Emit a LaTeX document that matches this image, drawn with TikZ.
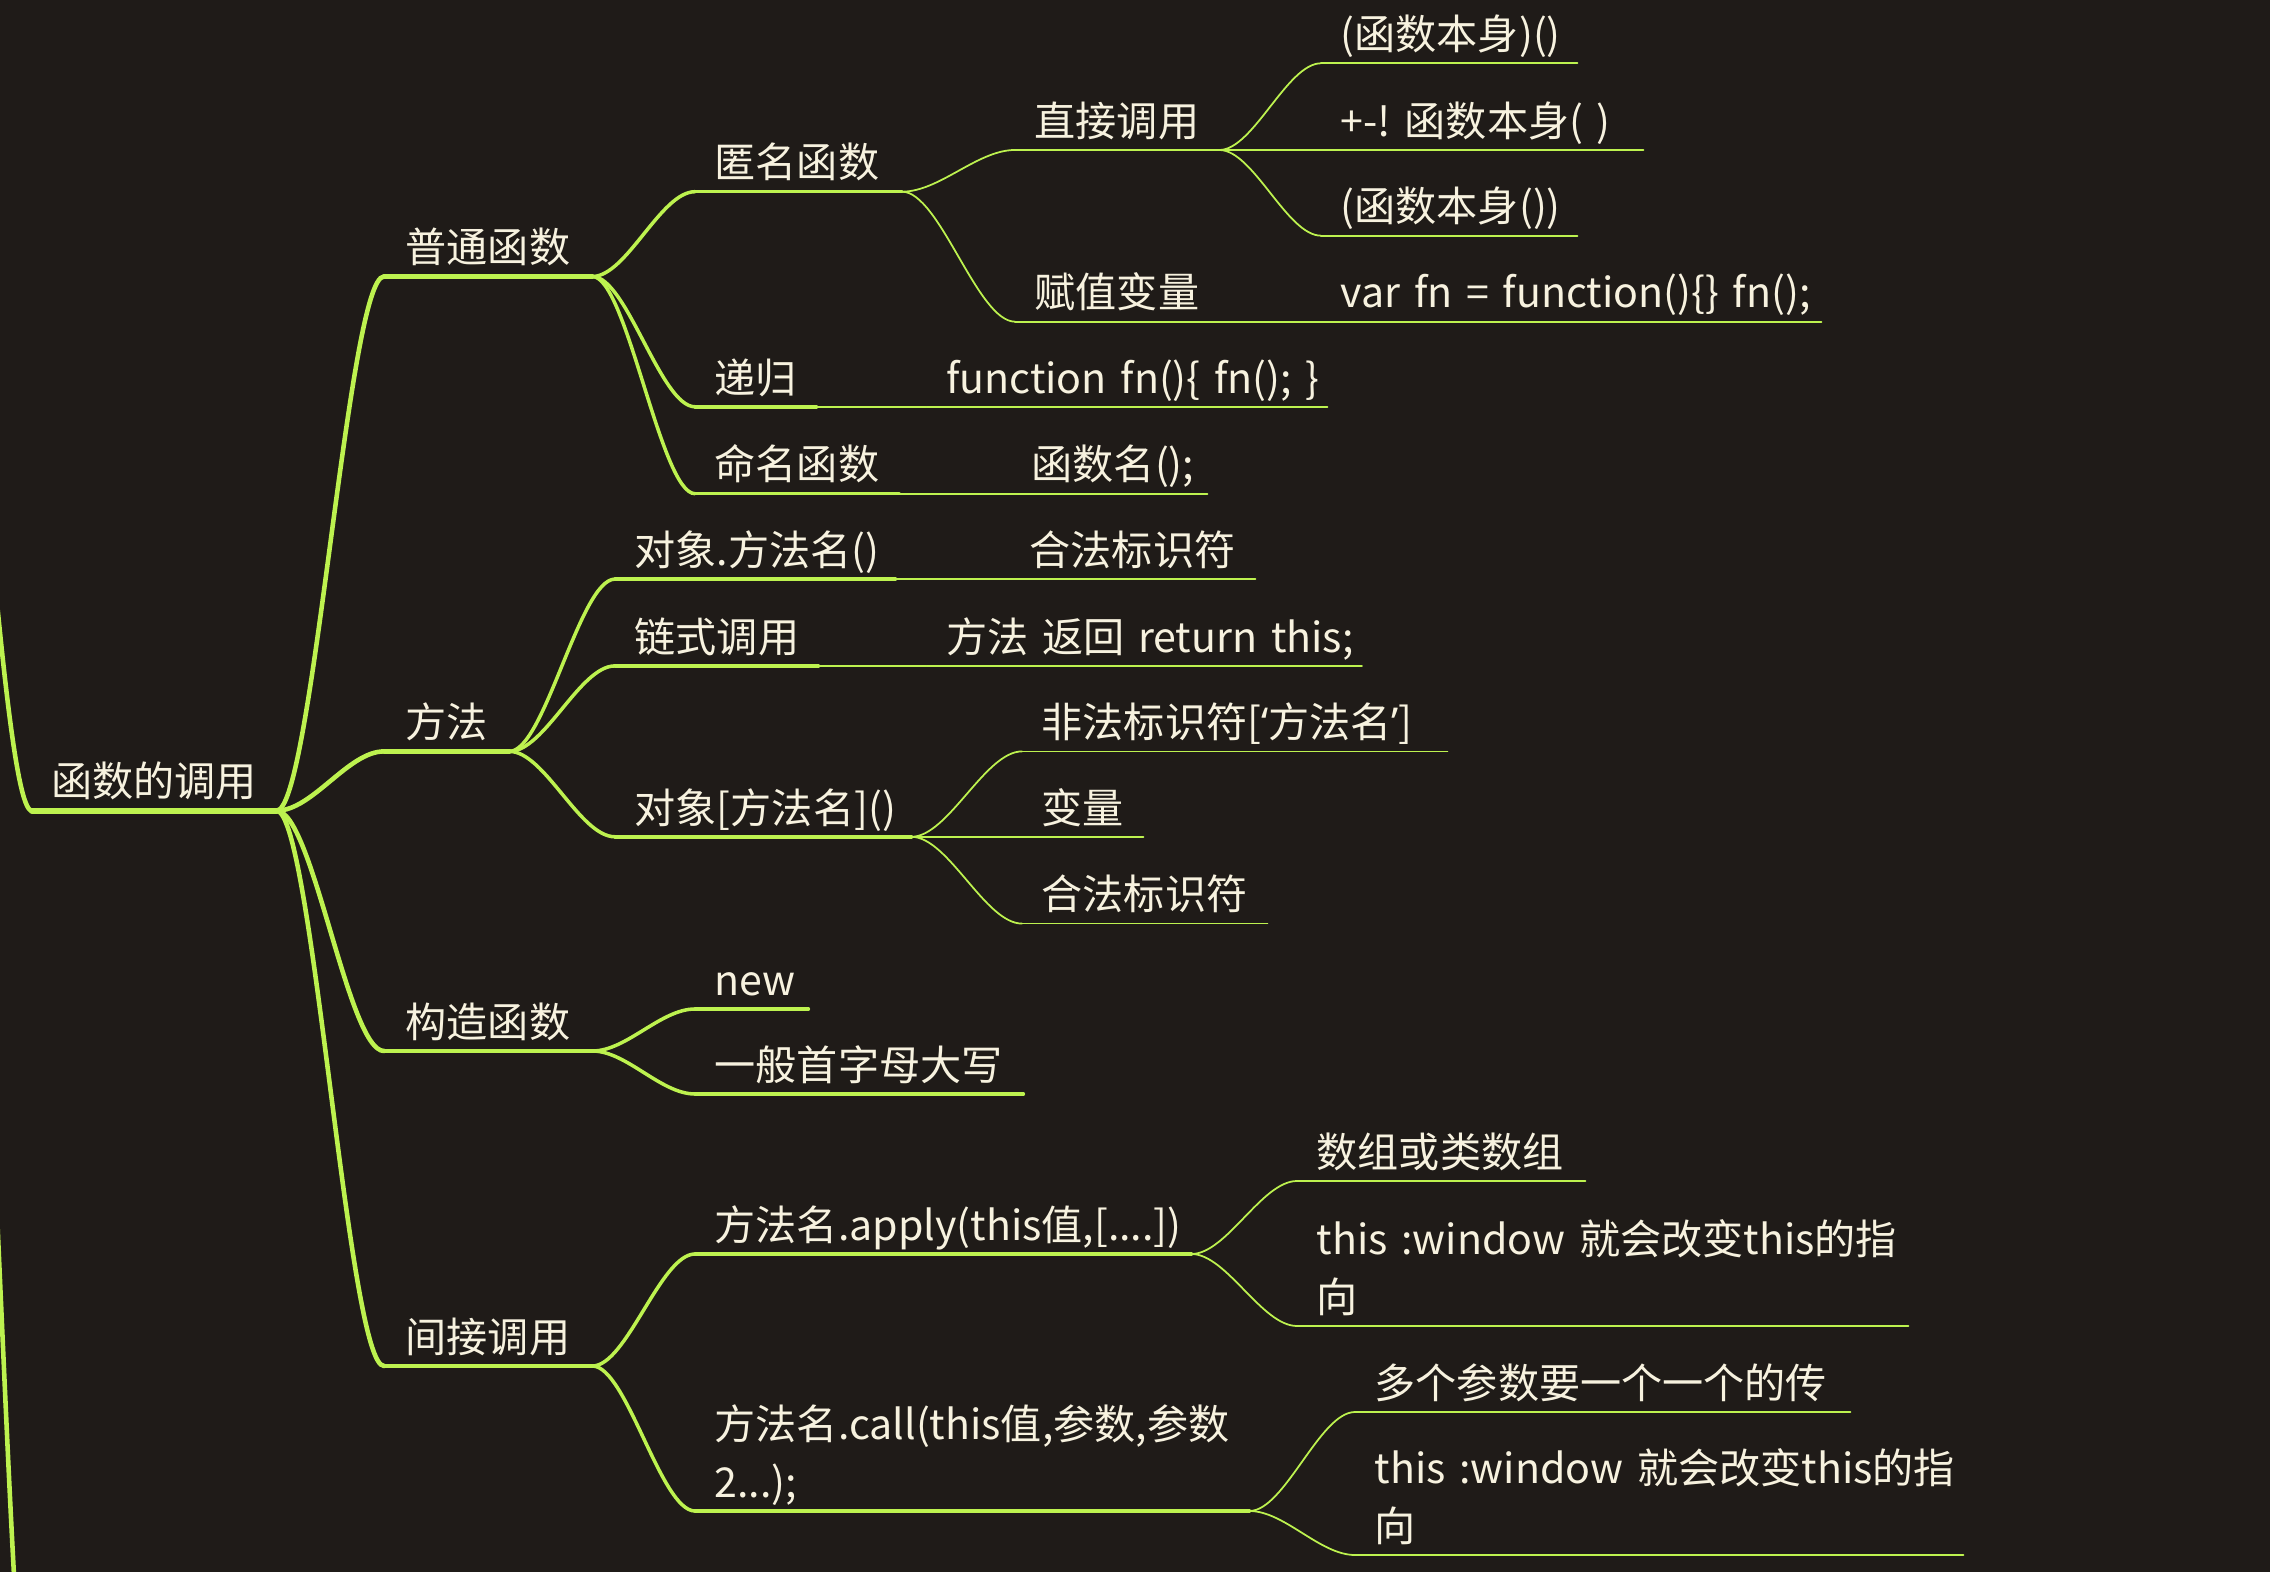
\documentclass[tikz,border=0pt]{standalone}
\usepackage{fontspec}
\newfontfamily\cjk{Noto Sans CJK SC}
\newfontfamily\lat{Noto Sans}
\usetikzlibrary{calc}
\definecolor{fondo}{HTML}{1F1B18}
\definecolor{lima}{HTML}{BDF24F}
\definecolor{crema}{HTML}{F7F2DF}
\hyphenpenalty=10000
\exhyphenpenalty=10000

\begin{document}
\begin{tikzpicture}[x=1mm, y=-1mm,
  topic/.style={anchor=south west, inner xsep=1.9mm, inner ysep=1.2pt, text depth=2.5pt,
    align=left, text=crema, font=\cjk\fontsize{11.7pt}{16.4pt}\selectfont},
  dos/.style={text depth=18.9pt},
  l0/.style={lima, line width=1.7pt, line cap=round},
  l1/.style={lima, line width=1.3pt, line cap=round},
  l2/.style={lima, line width=1pt, line cap=round},
  l3/.style={lima, line width=0.5pt, line cap=round},
  branch/.style={to path={let \p1=(\tikztostart), \p2=(\tikztotarget) in
    .. controls ({\x1+(\x2-\x1)/3},\y1) and ({\x2-(\x2-\x1)/3},\y2) .. (\tikztotarget)}}]
  \useasboundingbox (0,0) rectangle (227,157.2);
  \fill[fondo] (0,0) rectangle (227,157.2);
  \clip (0,0) rectangle (227,157.2);

  % raiz
  \node[topic, inner xsep=1.87mm, text width=20.6mm] (diaoyong) at (3.18,81.07) {函数的调用};
  % nivel 1
  \node[topic, inner xsep=2.1mm, text width=16.5mm] (putong) at (38.4,27.65) {普通函数};
  \node[topic, inner xsep=2.1mm, text width=8.2mm] (fangfa) at (38.4,75.14) {方法};
  \node[topic, inner xsep=2.1mm, text width=16.5mm] (gouzao) at (38.4,105.1) {构造函数};
  \node[topic, inner xsep=2.1mm, text width=16.5mm] (jianjie) at (38.4,136.6) {间接调用};
  % nivel 2
  \node[topic, text width=16.76mm] (niming) at (69.5,19.17) {匿名函数};
  \node[topic, text width=8.2mm] (digui) at (69.5,40.68) {递归};
  \node[topic, text width=16.5mm] (mingming) at (69.5,49.37) {命名函数};
  \node[topic, text width=24.1mm] (dianfa) at (61.5,57.91) {对象.方法名()};
  \node[topic, text width=16.4mm] (lianshi) at (61.5,66.59) {链式调用};
  \node[topic, text width=25.7mm] (kuohao) at (61.5,83.68) {对象[方法名]()};
  \node[topic, text width=7.4mm] (new) at (69.5,100.9) {new};
  \node[topic, text width=28.9mm] (daxie) at (69.5,109.4) {一般首字母大写};
  \node[topic, text width=45.7mm] (apply) at (69.5,125.4) {方法名.apply(this值,[....])};
  \node[topic, dos, text width=51.5mm] (call) at (69.5,151.1) {方法名.call(this值,参数,参数\\2...);};
  % nivel 3
  \node[topic, text width=16.5mm] (zhijie) at (101.5,15.0) {直接调用};
  \node[topic, text width=16.5mm] (fuzhi) at (101.5,32.17) {赋值变量};
  \node[topic, text width=36.15mm] (diguiF) at (92.65,40.68) {function~fn()\{~fn();~\}};
  \node[topic, text width=15.6mm] (hanshuming) at (101.2,49.37) {函数名();};
  \node[topic, text width=20.6mm] (hefa1) at (101.0,57.91) {合法标识符};
  \node[topic, text width=39.6mm] (fanhui) at (92.65,66.59) {方法~返回~return~this;};
  \node[topic, text width=38.6mm] (feifa) at (102.2,75.14) {非法标识符[{\lat ‘}方法名{\lat ’}]};
  \node[topic, text width=8.2mm] (bianliang) at (102.2,83.68) {变量};
  \node[topic, text width=20.6mm] (hefa2) at (102.2,92.36) {合法标识符};
  \node[topic, text width=24.9mm] (shuzu) at (129.7,118.1) {数组或类数组};
  \node[topic, dos, text width=57.2mm] (gaibian1) at (129.7,132.6) {this~:window~就会改变this的指\\向};
  \node[topic, text width=45.6mm] (duoge) at (135.5,141.2) {多个参数要一个一个的传};
  \node[topic, dos, text width=56.9mm] (gaibian2) at (135.5,155.5) {this~:window~就会改变this的指\\向};
  % nivel 4
  \node[topic, text width=21.7mm] (zs1) at (132.1,6.33) {(函数本身)()};
  \node[topic, text width=28.3mm] (zs2) at (132.1,15.0) {+-!~函数本身(~)};
  \node[topic, text width=21.7mm] (zs3) at (132.1,23.57) {(函数本身())};
  \node[topic, text width=46.1mm] (varfn) at (132.1,32.17) {var~fn~=~function()\{\}~fn();};

  % ramas que vienen de fuera
  \coordinate (arriba) at (-6.8,6.8);
  \coordinate (oculto) at (-3,84);
  \coordinate (abajo) at (3.18,176);
  \draw[l1] (arriba) to[branch] (diaoyong.south west);
  \draw[l1] (oculto) to[branch] (abajo);

  % subrayados
  \draw[l0] (diaoyong.south west) -- (diaoyong.south east);
  \foreach \n in {putong,fangfa,gouzao,jianjie}
    \draw[l1] (\n.south west) -- (\n.south east);
  \foreach \n in {niming,digui,mingming,dianfa,lianshi,kuohao,new,daxie,apply,call}
    \draw[l2] (\n.south west) -- (\n.south east);
  \foreach \n in {zhijie,fuzhi,diguiF,hanshuming,hefa1,fanhui,feifa,bianliang,hefa2,
                  shuzu,gaibian1,duoge,gaibian2,zs1,zs2,zs3,varfn}
    \draw[l3] (\n.south west) -- (\n.south east);

  % conectores
  \foreach \b in {putong,fangfa,gouzao,jianjie}
    \draw[l1] (diaoyong.south east) to[branch] (\b.south west);
  \foreach \a/\b in {putong/niming, putong/digui, putong/mingming, fangfa/dianfa, fangfa/lianshi,
                     fangfa/kuohao, gouzao/new, gouzao/daxie, jianjie/apply, jianjie/call}
    \draw[l2] (\a.south east) to[branch] (\b.south west);
  \foreach \a/\b in {niming/zhijie, niming/fuzhi, digui/diguiF, mingming/hanshuming, dianfa/hefa1,
                     lianshi/fanhui, kuohao/feifa, kuohao/bianliang, kuohao/hefa2, apply/shuzu,
                     apply/gaibian1, call/duoge, call/gaibian2, zhijie/zs1, zhijie/zs2,
                     zhijie/zs3, fuzhi/varfn}
    \draw[l3] (\a.south east) to[branch] (\b.south west);
\end{tikzpicture}
\end{document}
